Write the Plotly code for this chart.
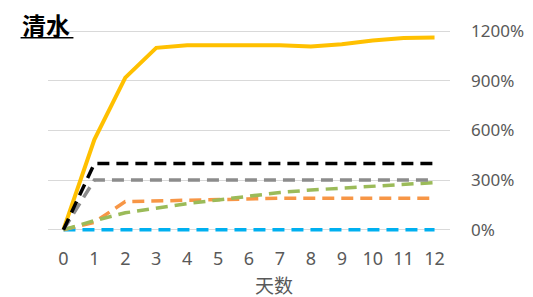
import plotly.graph_objects as go

days = list(range(13))
tick_vals = [0, 300, 600, 900, 1200]
tick_text = ["0%", "300%", "600%", "900%", "1200%"]

yellow = [0, 545, 920, 1100, 1115, 1115, 1115, 1115, 1108, 1122, 1145, 1160, 1162]
black = [0, 400, 400, 400, 400, 400, 400, 400, 400, 400, 400, 400, 400]
gray = [0, 300, 300, 300, 300, 300, 300, 300, 300, 300, 300, 300, 300]
orange = [0, 45, 170, 175, 180, 185, 190, 190, 190, 190, 190, 190, 190]
green = [0, 55, 102, 130, 158, 180, 205, 225, 240, 250, 262, 272, 285]
blue = [0] * 13

OFF = 8  # page body margin
W, H = 533 - OFF, 297 - OFF
# plot area in window pixels
PL, PR, PT, PB = 47.5, 450.5, 28.2, 233.3
L, R, T, B = PL - OFF, W - (PR - OFF), PT - OFF, H - (PB - OFF)
pw, ph = W - L - R, H - T - B

def px_x(x):
    return (x - OFF - L) / pw

def px_y(y):
    return (H - B - (y - OFF)) / ph

fig = go.Figure()
dash = "12px,7px"
fig.add_trace(go.Scatter(x=days, y=yellow, mode="lines", line=dict(color="#FFC000", width=4)))
for ys, col in [(blue, "#00B0F0"), (orange, "#F79646"), (green, "#9BBB59"), (gray, "#8C8C8C"), (black, "#000000")]:
    fig.add_trace(go.Scatter(x=days, y=ys, mode="lines", line=dict(color=col, width=3.5, dash=dash)))

fig.update_layout(
    width=W, height=H, showlegend=False,
    margin=dict(l=L, r=R, t=T, b=B, autoexpand=False),
    paper_bgcolor="white", plot_bgcolor="white",
    font=dict(family="Noto Sans", color="#595959"),
    xaxis=dict(range=[-0.5, 12.5], tickvals=days, ticktext=[str(d) for d in days],
               showgrid=False, zeroline=False, showline=False,
               tickfont=dict(size=18, color="#595959"), ticklabelstandoff=13),
    yaxis=dict(range=[-20, 1220], side="right", tickvals=tick_vals, ticktext=tick_text,
               showgrid=True, gridcolor="#D9D9D9", gridwidth=1, zeroline=False, showline=False,
               tickfont=dict(size=17, color="#595959"), ticklabelstandoff=20),
    shapes=[
        dict(type="rect", xref="paper", yref="paper", x0=px_x(10), x1=px_x(152),
             y0=px_y(40), y1=px_y(28), fillcolor="white", line=dict(width=0), layer="below"),
        dict(type="line", xref="paper", yref="paper", x0=px_x(20), x1=px_x(73),
             y0=px_y(38), y1=px_y(38), line=dict(color="#000000", width=1.5)),
    ],
    annotations=[
        dict(text="<b>清水</b>", xref="paper", yref="paper", x=px_x(19), y=px_y(24.5),
             xanchor="left", yanchor="middle", showarrow=False,
             font=dict(family="Noto Sans CJK SC", size=24, color="#000000")),
        dict(text="天数", xref="paper", yref="paper", x=px_x(274), y=px_y(284.5),
             xanchor="center", yanchor="middle", showarrow=False,
             font=dict(family="Noto Sans CJK SC", size=19, color="#595959")),
    ],
)
fig.write_html("out.html")
